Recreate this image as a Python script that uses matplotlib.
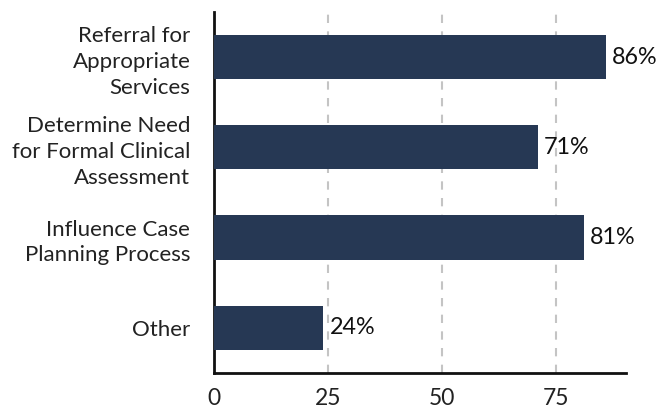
import matplotlib
matplotlib.use("Agg")
import matplotlib.pyplot as plt

categories = ["Referral for\nAppropriate\nServices",
              "Determine Need\nfor Formal Clinical\nAssessment",
              "Influence Case\nPlanning Process",
              "Other"]
values = [86, 71, 81, 24]
xticks = [0, 25, 50, 75]

plt.rcParams["font.family"] = ["Lato", "DejaVu Sans"]
FS = 16

fig = plt.figure(figsize=(6.59, 4.08), dpi=100)
ax = fig.add_axes([0.3247, 0.0858, 0.6253, 0.885])

pos = list(range(len(categories)))
ax.barh(pos, values, height=0.49, color="#263854", zorder=3)
for p, v in zip(pos, values):
    ax.text(v + 1.3, p, f"{v}%", va="center", ha="left", fontsize=16.8, color="#111111")

ax.set_yticks(pos)
ax.set_yticklabels(categories, fontsize=FS, linespacing=1.36, color="#222222")
ax.set_xticks(xticks)
ax.set_xticklabels([str(t) for t in xticks], fontsize=16.5, color="#222222")
ax.set_xlim(0, 90.3)
ax.set_ylim(3.5, -0.5)

ax.tick_params(axis="both", length=0)
ax.tick_params(axis="x", pad=11)
ax.tick_params(axis="y", pad=17)

ax.xaxis.grid(True, linestyle=(0, (4, 4)), color="#c4c4c4", linewidth=1.5, zorder=0)
ax.set_axisbelow(True)
for s in ["top", "right"]:
    ax.spines[s].set_visible(False)
for s in ["left", "bottom"]:
    ax.spines[s].set_linewidth(2)
    ax.spines[s].set_color("#111111")

fig.savefig("out.png", dpi=100)
